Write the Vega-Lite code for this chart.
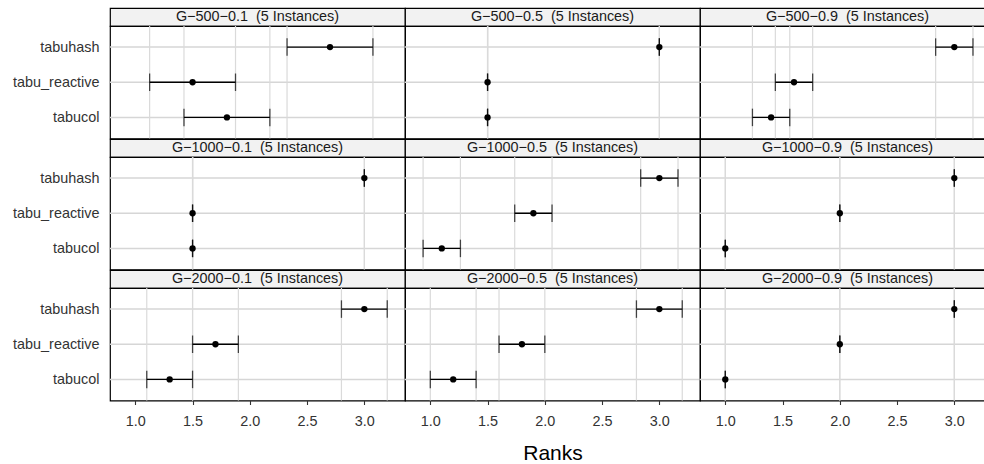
{
  "$schema": "https://vega.github.io/schema/vega-lite/v6.json",
  "padding": {"left": 11, "top": 7, "right": 0, "bottom": 0},
  "background": "white",
  "columns": 3,
  "spacing": 0,
  "bounds": "flush",
  "align": "each",
  "resolve": {"scale": {"x": "independent", "y": "independent"}},
  "datasets": {
    "strips": [
      {"panel": "G−500−0.1", "label": "G−500−0.1\u00a0 (5 Instances)"},
      {"panel": "G−500−0.5", "label": "G−500−0.5\u00a0 (5 Instances)"},
      {"panel": "G−500−0.9", "label": "G−500−0.9\u00a0 (5 Instances)"},
      {"panel": "G−1000−0.1", "label": "G−1000−0.1\u00a0 (5 Instances)"},
      {"panel": "G−1000−0.5", "label": "G−1000−0.5\u00a0 (5 Instances)"},
      {"panel": "G−1000−0.9", "label": "G−1000−0.9\u00a0 (5 Instances)"},
      {"panel": "G−2000−0.1", "label": "G−2000−0.1\u00a0 (5 Instances)"},
      {"panel": "G−2000−0.5", "label": "G−2000−0.5\u00a0 (5 Instances)"},
      {"panel": "G−2000−0.9", "label": "G−2000−0.9\u00a0 (5 Instances)"}
    ],
    "ranks": [
      {"panel": "G−500−0.1", "algorithm": "tabuhash", "lo": 2.325, "mean": 2.7, "hi": 3.075},
      {"panel": "G−500−0.1", "algorithm": "tabu_reactive", "lo": 1.125, "mean": 1.5, "hi": 1.875},
      {"panel": "G−500−0.1", "algorithm": "tabucol", "lo": 1.425, "mean": 1.8, "hi": 2.175},
      {"panel": "G−500−0.5", "algorithm": "tabuhash", "lo": 3.0, "mean": 3.0, "hi": 3.0},
      {"panel": "G−500−0.5", "algorithm": "tabu_reactive", "lo": 1.5, "mean": 1.5, "hi": 1.5},
      {"panel": "G−500−0.5", "algorithm": "tabucol", "lo": 1.5, "mean": 1.5, "hi": 1.5},
      {"panel": "G−500−0.9", "algorithm": "tabuhash", "lo": 2.837, "mean": 3.0, "hi": 3.163},
      {"panel": "G−500−0.9", "algorithm": "tabu_reactive", "lo": 1.437, "mean": 1.6, "hi": 1.763},
      {"panel": "G−500−0.9", "algorithm": "tabucol", "lo": 1.237, "mean": 1.4, "hi": 1.563},
      {"panel": "G−1000−0.1", "algorithm": "tabuhash", "lo": 3.0, "mean": 3.0, "hi": 3.0},
      {"panel": "G−1000−0.1", "algorithm": "tabu_reactive", "lo": 1.5, "mean": 1.5, "hi": 1.5},
      {"panel": "G−1000−0.1", "algorithm": "tabucol", "lo": 1.5, "mean": 1.5, "hi": 1.5},
      {"panel": "G−1000−0.5", "algorithm": "tabuhash", "lo": 2.837, "mean": 3.0, "hi": 3.163},
      {"panel": "G−1000−0.5", "algorithm": "tabu_reactive", "lo": 1.737, "mean": 1.9, "hi": 2.063},
      {"panel": "G−1000−0.5", "algorithm": "tabucol", "lo": 0.937, "mean": 1.1, "hi": 1.263},
      {"panel": "G−1000−0.9", "algorithm": "tabuhash", "lo": 3.0, "mean": 3.0, "hi": 3.0},
      {"panel": "G−1000−0.9", "algorithm": "tabu_reactive", "lo": 2.0, "mean": 2.0, "hi": 2.0},
      {"panel": "G−1000−0.9", "algorithm": "tabucol", "lo": 1.0, "mean": 1.0, "hi": 1.0},
      {"panel": "G−2000−0.1", "algorithm": "tabuhash", "lo": 2.8, "mean": 3.0, "hi": 3.2},
      {"panel": "G−2000−0.1", "algorithm": "tabu_reactive", "lo": 1.5, "mean": 1.7, "hi": 1.9},
      {"panel": "G−2000−0.1", "algorithm": "tabucol", "lo": 1.1, "mean": 1.3, "hi": 1.5},
      {"panel": "G−2000−0.5", "algorithm": "tabuhash", "lo": 2.8, "mean": 3.0, "hi": 3.2},
      {"panel": "G−2000−0.5", "algorithm": "tabu_reactive", "lo": 1.6, "mean": 1.8, "hi": 2.0},
      {"panel": "G−2000−0.5", "algorithm": "tabucol", "lo": 1.0, "mean": 1.2, "hi": 1.4},
      {"panel": "G−2000−0.9", "algorithm": "tabuhash", "lo": 3.0, "mean": 3.0, "hi": 3.0},
      {"panel": "G−2000−0.9", "algorithm": "tabu_reactive", "lo": 2.0, "mean": 2.0, "hi": 2.0},
      {"panel": "G−2000−0.9", "algorithm": "tabucol", "lo": 1.0, "mean": 1.0, "hi": 1.0}
    ]
  },
  "concat": [
    {"width": 295, "height": 18, "view": {"fill": "#F2F2F2", "stroke": "black", "strokeWidth": 1.2}, "data": {"name": "strips"}, "transform": [{"filter": {"field": "panel", "equal": "G−500−0.1"}}], "mark": {"type": "text", "fontSize": 14.4, "color": "#1A1A1A"}, "encoding": {"text": {"field": "label"}, "x": {"datum": 2.067, "type": "quantitative", "scale": {"domain": [0.779, 3.355], "nice": false, "zero": false}, "axis": null}}},
    {"width": 295, "height": 18, "view": {"fill": "#F2F2F2", "stroke": "black", "strokeWidth": 1.2}, "data": {"name": "strips"}, "transform": [{"filter": {"field": "panel", "equal": "G−500−0.5"}}], "mark": {"type": "text", "fontSize": 14.4, "color": "#1A1A1A"}, "encoding": {"text": {"field": "label"}, "x": {"datum": 2.067, "type": "quantitative", "scale": {"domain": [0.779, 3.355], "nice": false, "zero": false}, "axis": null}}},
    {"width": 285, "height": 18, "view": {"fill": "#F2F2F2", "stroke": "black", "strokeWidth": 1.2}, "data": {"name": "strips"}, "transform": [{"filter": {"field": "panel", "equal": "G−500−0.9"}}], "mark": {"type": "text", "fontSize": 14.4, "color": "#1A1A1A"}, "encoding": {"text": {"field": "label"}, "x": {"datum": 2.067, "type": "quantitative", "scale": {"domain": [0.779, 3.268], "nice": false, "zero": false}, "axis": null}}},

    {"width": 295, "height": 112.5, "data": {"name": "ranks"}, "transform": [{"filter": {"field": "panel", "equal": "G−500−0.1"}}],
     "layer": [
      {"mark": {"type": "rule", "color": "#D6D6D6", "strokeWidth": 1.5}, "encoding": {"x": {"datum": 0.779, "type": "quantitative", "scale": {"domain": [0.779, 3.355], "nice": false, "zero": false}, "axis": null}, "x2": {"datum": 3.355}, "y": {"field": "algorithm", "type": "nominal", "scale": {"type": "point", "domain": ["tabuhash", "tabu_reactive", "tabucol"], "padding": 0.6}, "axis": {"title": null}}}},
      {"mark": {"type": "rule", "color": "#DADADA", "strokeWidth": 1.2}, "encoding": {"x": {"field": "lo", "type": "quantitative", "scale": {"domain": [0.779, 3.355], "nice": false, "zero": false}, "axis": null}}},
      {"mark": {"type": "rule", "color": "#DADADA", "strokeWidth": 1.2}, "encoding": {"x": {"field": "hi", "type": "quantitative", "scale": {"domain": [0.779, 3.355], "nice": false, "zero": false}, "axis": null}}},
      {"mark": {"type": "rule", "color": "black", "strokeWidth": 1.3}, "encoding": {"x": {"field": "lo", "type": "quantitative", "scale": {"domain": [0.779, 3.355], "nice": false, "zero": false}, "axis": null}, "x2": {"field": "hi"}, "y": {"field": "algorithm", "type": "nominal", "scale": {"type": "point", "domain": ["tabuhash", "tabu_reactive", "tabucol"], "padding": 0.6}, "axis": {"title": null}}}},
      {"mark": {"type": "tick", "color": "black", "size": 17.5, "thickness": 1.3}, "encoding": {"x": {"field": "lo", "type": "quantitative", "scale": {"domain": [0.779, 3.355], "nice": false, "zero": false}, "axis": null}, "y": {"field": "algorithm", "type": "nominal", "scale": {"type": "point", "domain": ["tabuhash", "tabu_reactive", "tabucol"], "padding": 0.6}, "axis": {"title": null}}}},
      {"mark": {"type": "tick", "color": "black", "size": 17.5, "thickness": 1.3}, "encoding": {"x": {"field": "hi", "type": "quantitative", "scale": {"domain": [0.779, 3.355], "nice": false, "zero": false}, "axis": null}, "y": {"field": "algorithm", "type": "nominal", "scale": {"type": "point", "domain": ["tabuhash", "tabu_reactive", "tabucol"], "padding": 0.6}, "axis": {"title": null}}}},
      {"mark": {"type": "circle", "color": "black", "size": 40, "opacity": 1}, "encoding": {"x": {"field": "mean", "type": "quantitative", "scale": {"domain": [0.779, 3.355], "nice": false, "zero": false}, "axis": null}, "y": {"field": "algorithm", "type": "nominal", "scale": {"type": "point", "domain": ["tabuhash", "tabu_reactive", "tabucol"], "padding": 0.6}, "axis": {"title": null}}}}
     ]},
    {"width": 295, "height": 112.5, "data": {"name": "ranks"}, "transform": [{"filter": {"field": "panel", "equal": "G−500−0.5"}}],
     "layer": [
      {"mark": {"type": "rule", "color": "#D6D6D6", "strokeWidth": 1.5}, "encoding": {"x": {"datum": 0.779, "type": "quantitative", "scale": {"domain": [0.779, 3.355], "nice": false, "zero": false}, "axis": null}, "x2": {"datum": 3.355}, "y": {"field": "algorithm", "type": "nominal", "scale": {"type": "point", "domain": ["tabuhash", "tabu_reactive", "tabucol"], "padding": 0.6}, "axis": null}}},
      {"mark": {"type": "rule", "color": "#DADADA", "strokeWidth": 1.2}, "encoding": {"x": {"field": "lo", "type": "quantitative", "scale": {"domain": [0.779, 3.355], "nice": false, "zero": false}, "axis": null}}},
      {"mark": {"type": "rule", "color": "#DADADA", "strokeWidth": 1.2}, "encoding": {"x": {"field": "hi", "type": "quantitative", "scale": {"domain": [0.779, 3.355], "nice": false, "zero": false}, "axis": null}}},
      {"mark": {"type": "rule", "color": "black", "strokeWidth": 1.3}, "encoding": {"x": {"field": "lo", "type": "quantitative", "scale": {"domain": [0.779, 3.355], "nice": false, "zero": false}, "axis": null}, "x2": {"field": "hi"}, "y": {"field": "algorithm", "type": "nominal", "scale": {"type": "point", "domain": ["tabuhash", "tabu_reactive", "tabucol"], "padding": 0.6}, "axis": null}}},
      {"mark": {"type": "tick", "color": "black", "size": 17.5, "thickness": 1.3}, "encoding": {"x": {"field": "lo", "type": "quantitative", "scale": {"domain": [0.779, 3.355], "nice": false, "zero": false}, "axis": null}, "y": {"field": "algorithm", "type": "nominal", "scale": {"type": "point", "domain": ["tabuhash", "tabu_reactive", "tabucol"], "padding": 0.6}, "axis": null}}},
      {"mark": {"type": "tick", "color": "black", "size": 17.5, "thickness": 1.3}, "encoding": {"x": {"field": "hi", "type": "quantitative", "scale": {"domain": [0.779, 3.355], "nice": false, "zero": false}, "axis": null}, "y": {"field": "algorithm", "type": "nominal", "scale": {"type": "point", "domain": ["tabuhash", "tabu_reactive", "tabucol"], "padding": 0.6}, "axis": null}}},
      {"mark": {"type": "circle", "color": "black", "size": 40, "opacity": 1}, "encoding": {"x": {"field": "mean", "type": "quantitative", "scale": {"domain": [0.779, 3.355], "nice": false, "zero": false}, "axis": null}, "y": {"field": "algorithm", "type": "nominal", "scale": {"type": "point", "domain": ["tabuhash", "tabu_reactive", "tabucol"], "padding": 0.6}, "axis": null}}}
     ]},
    {"width": 285, "height": 112.5, "data": {"name": "ranks"}, "transform": [{"filter": {"field": "panel", "equal": "G−500−0.9"}}],
     "layer": [
      {"mark": {"type": "rule", "color": "#D6D6D6", "strokeWidth": 1.5}, "encoding": {"x": {"datum": 0.779, "type": "quantitative", "scale": {"domain": [0.779, 3.268], "nice": false, "zero": false}, "axis": null}, "x2": {"datum": 3.268}, "y": {"field": "algorithm", "type": "nominal", "scale": {"type": "point", "domain": ["tabuhash", "tabu_reactive", "tabucol"], "padding": 0.6}, "axis": null}}},
      {"mark": {"type": "rule", "color": "#DADADA", "strokeWidth": 1.2}, "encoding": {"x": {"field": "lo", "type": "quantitative", "scale": {"domain": [0.779, 3.268], "nice": false, "zero": false}, "axis": null}}},
      {"mark": {"type": "rule", "color": "#DADADA", "strokeWidth": 1.2}, "encoding": {"x": {"field": "hi", "type": "quantitative", "scale": {"domain": [0.779, 3.268], "nice": false, "zero": false}, "axis": null}}},
      {"mark": {"type": "rule", "color": "black", "strokeWidth": 1.3}, "encoding": {"x": {"field": "lo", "type": "quantitative", "scale": {"domain": [0.779, 3.268], "nice": false, "zero": false}, "axis": null}, "x2": {"field": "hi"}, "y": {"field": "algorithm", "type": "nominal", "scale": {"type": "point", "domain": ["tabuhash", "tabu_reactive", "tabucol"], "padding": 0.6}, "axis": null}}},
      {"mark": {"type": "tick", "color": "black", "size": 17.5, "thickness": 1.3}, "encoding": {"x": {"field": "lo", "type": "quantitative", "scale": {"domain": [0.779, 3.268], "nice": false, "zero": false}, "axis": null}, "y": {"field": "algorithm", "type": "nominal", "scale": {"type": "point", "domain": ["tabuhash", "tabu_reactive", "tabucol"], "padding": 0.6}, "axis": null}}},
      {"mark": {"type": "tick", "color": "black", "size": 17.5, "thickness": 1.3}, "encoding": {"x": {"field": "hi", "type": "quantitative", "scale": {"domain": [0.779, 3.268], "nice": false, "zero": false}, "axis": null}, "y": {"field": "algorithm", "type": "nominal", "scale": {"type": "point", "domain": ["tabuhash", "tabu_reactive", "tabucol"], "padding": 0.6}, "axis": null}}},
      {"mark": {"type": "circle", "color": "black", "size": 40, "opacity": 1}, "encoding": {"x": {"field": "mean", "type": "quantitative", "scale": {"domain": [0.779, 3.268], "nice": false, "zero": false}, "axis": null}, "y": {"field": "algorithm", "type": "nominal", "scale": {"type": "point", "domain": ["tabuhash", "tabu_reactive", "tabucol"], "padding": 0.6}, "axis": null}}}
     ]},

    {"width": 295, "height": 18, "view": {"fill": "#F2F2F2", "stroke": "black", "strokeWidth": 1.2}, "data": {"name": "strips"}, "transform": [{"filter": {"field": "panel", "equal": "G−1000−0.1"}}], "mark": {"type": "text", "fontSize": 14.4, "color": "#1A1A1A"}, "encoding": {"text": {"field": "label"}, "x": {"datum": 2.067, "type": "quantitative", "scale": {"domain": [0.779, 3.355], "nice": false, "zero": false}, "axis": null}}},
    {"width": 295, "height": 18, "view": {"fill": "#F2F2F2", "stroke": "black", "strokeWidth": 1.2}, "data": {"name": "strips"}, "transform": [{"filter": {"field": "panel", "equal": "G−1000−0.5"}}], "mark": {"type": "text", "fontSize": 14.4, "color": "#1A1A1A"}, "encoding": {"text": {"field": "label"}, "x": {"datum": 2.067, "type": "quantitative", "scale": {"domain": [0.779, 3.355], "nice": false, "zero": false}, "axis": null}}},
    {"width": 285, "height": 18, "view": {"fill": "#F2F2F2", "stroke": "black", "strokeWidth": 1.2}, "data": {"name": "strips"}, "transform": [{"filter": {"field": "panel", "equal": "G−1000−0.9"}}], "mark": {"type": "text", "fontSize": 14.4, "color": "#1A1A1A"}, "encoding": {"text": {"field": "label"}, "x": {"datum": 2.067, "type": "quantitative", "scale": {"domain": [0.779, 3.268], "nice": false, "zero": false}, "axis": null}}},

    {"width": 295, "height": 112.5, "data": {"name": "ranks"}, "transform": [{"filter": {"field": "panel", "equal": "G−1000−0.1"}}],
     "layer": [
      {"mark": {"type": "rule", "color": "#D6D6D6", "strokeWidth": 1.5}, "encoding": {"x": {"datum": 0.779, "type": "quantitative", "scale": {"domain": [0.779, 3.355], "nice": false, "zero": false}, "axis": null}, "x2": {"datum": 3.355}, "y": {"field": "algorithm", "type": "nominal", "scale": {"type": "point", "domain": ["tabuhash", "tabu_reactive", "tabucol"], "padding": 0.6}, "axis": {"title": null}}}},
      {"mark": {"type": "rule", "color": "#DADADA", "strokeWidth": 1.2}, "encoding": {"x": {"field": "lo", "type": "quantitative", "scale": {"domain": [0.779, 3.355], "nice": false, "zero": false}, "axis": null}}},
      {"mark": {"type": "rule", "color": "#DADADA", "strokeWidth": 1.2}, "encoding": {"x": {"field": "hi", "type": "quantitative", "scale": {"domain": [0.779, 3.355], "nice": false, "zero": false}, "axis": null}}},
      {"mark": {"type": "rule", "color": "black", "strokeWidth": 1.3}, "encoding": {"x": {"field": "lo", "type": "quantitative", "scale": {"domain": [0.779, 3.355], "nice": false, "zero": false}, "axis": null}, "x2": {"field": "hi"}, "y": {"field": "algorithm", "type": "nominal", "scale": {"type": "point", "domain": ["tabuhash", "tabu_reactive", "tabucol"], "padding": 0.6}, "axis": {"title": null}}}},
      {"mark": {"type": "tick", "color": "black", "size": 17.5, "thickness": 1.3}, "encoding": {"x": {"field": "lo", "type": "quantitative", "scale": {"domain": [0.779, 3.355], "nice": false, "zero": false}, "axis": null}, "y": {"field": "algorithm", "type": "nominal", "scale": {"type": "point", "domain": ["tabuhash", "tabu_reactive", "tabucol"], "padding": 0.6}, "axis": {"title": null}}}},
      {"mark": {"type": "tick", "color": "black", "size": 17.5, "thickness": 1.3}, "encoding": {"x": {"field": "hi", "type": "quantitative", "scale": {"domain": [0.779, 3.355], "nice": false, "zero": false}, "axis": null}, "y": {"field": "algorithm", "type": "nominal", "scale": {"type": "point", "domain": ["tabuhash", "tabu_reactive", "tabucol"], "padding": 0.6}, "axis": {"title": null}}}},
      {"mark": {"type": "circle", "color": "black", "size": 40, "opacity": 1}, "encoding": {"x": {"field": "mean", "type": "quantitative", "scale": {"domain": [0.779, 3.355], "nice": false, "zero": false}, "axis": null}, "y": {"field": "algorithm", "type": "nominal", "scale": {"type": "point", "domain": ["tabuhash", "tabu_reactive", "tabucol"], "padding": 0.6}, "axis": {"title": null}}}}
     ]},
    {"width": 295, "height": 112.5, "data": {"name": "ranks"}, "transform": [{"filter": {"field": "panel", "equal": "G−1000−0.5"}}],
     "layer": [
      {"mark": {"type": "rule", "color": "#D6D6D6", "strokeWidth": 1.5}, "encoding": {"x": {"datum": 0.779, "type": "quantitative", "scale": {"domain": [0.779, 3.355], "nice": false, "zero": false}, "axis": null}, "x2": {"datum": 3.355}, "y": {"field": "algorithm", "type": "nominal", "scale": {"type": "point", "domain": ["tabuhash", "tabu_reactive", "tabucol"], "padding": 0.6}, "axis": null}}},
      {"mark": {"type": "rule", "color": "#DADADA", "strokeWidth": 1.2}, "encoding": {"x": {"field": "lo", "type": "quantitative", "scale": {"domain": [0.779, 3.355], "nice": false, "zero": false}, "axis": null}}},
      {"mark": {"type": "rule", "color": "#DADADA", "strokeWidth": 1.2}, "encoding": {"x": {"field": "hi", "type": "quantitative", "scale": {"domain": [0.779, 3.355], "nice": false, "zero": false}, "axis": null}}},
      {"mark": {"type": "rule", "color": "black", "strokeWidth": 1.3}, "encoding": {"x": {"field": "lo", "type": "quantitative", "scale": {"domain": [0.779, 3.355], "nice": false, "zero": false}, "axis": null}, "x2": {"field": "hi"}, "y": {"field": "algorithm", "type": "nominal", "scale": {"type": "point", "domain": ["tabuhash", "tabu_reactive", "tabucol"], "padding": 0.6}, "axis": null}}},
      {"mark": {"type": "tick", "color": "black", "size": 17.5, "thickness": 1.3}, "encoding": {"x": {"field": "lo", "type": "quantitative", "scale": {"domain": [0.779, 3.355], "nice": false, "zero": false}, "axis": null}, "y": {"field": "algorithm", "type": "nominal", "scale": {"type": "point", "domain": ["tabuhash", "tabu_reactive", "tabucol"], "padding": 0.6}, "axis": null}}},
      {"mark": {"type": "tick", "color": "black", "size": 17.5, "thickness": 1.3}, "encoding": {"x": {"field": "hi", "type": "quantitative", "scale": {"domain": [0.779, 3.355], "nice": false, "zero": false}, "axis": null}, "y": {"field": "algorithm", "type": "nominal", "scale": {"type": "point", "domain": ["tabuhash", "tabu_reactive", "tabucol"], "padding": 0.6}, "axis": null}}},
      {"mark": {"type": "circle", "color": "black", "size": 40, "opacity": 1}, "encoding": {"x": {"field": "mean", "type": "quantitative", "scale": {"domain": [0.779, 3.355], "nice": false, "zero": false}, "axis": null}, "y": {"field": "algorithm", "type": "nominal", "scale": {"type": "point", "domain": ["tabuhash", "tabu_reactive", "tabucol"], "padding": 0.6}, "axis": null}}}
     ]},
    {"width": 285, "height": 112.5, "data": {"name": "ranks"}, "transform": [{"filter": {"field": "panel", "equal": "G−1000−0.9"}}],
     "layer": [
      {"mark": {"type": "rule", "color": "#D6D6D6", "strokeWidth": 1.5}, "encoding": {"x": {"datum": 0.779, "type": "quantitative", "scale": {"domain": [0.779, 3.268], "nice": false, "zero": false}, "axis": null}, "x2": {"datum": 3.268}, "y": {"field": "algorithm", "type": "nominal", "scale": {"type": "point", "domain": ["tabuhash", "tabu_reactive", "tabucol"], "padding": 0.6}, "axis": null}}},
      {"mark": {"type": "rule", "color": "#DADADA", "strokeWidth": 1.2}, "encoding": {"x": {"field": "lo", "type": "quantitative", "scale": {"domain": [0.779, 3.268], "nice": false, "zero": false}, "axis": null}}},
      {"mark": {"type": "rule", "color": "#DADADA", "strokeWidth": 1.2}, "encoding": {"x": {"field": "hi", "type": "quantitative", "scale": {"domain": [0.779, 3.268], "nice": false, "zero": false}, "axis": null}}},
      {"mark": {"type": "rule", "color": "black", "strokeWidth": 1.3}, "encoding": {"x": {"field": "lo", "type": "quantitative", "scale": {"domain": [0.779, 3.268], "nice": false, "zero": false}, "axis": null}, "x2": {"field": "hi"}, "y": {"field": "algorithm", "type": "nominal", "scale": {"type": "point", "domain": ["tabuhash", "tabu_reactive", "tabucol"], "padding": 0.6}, "axis": null}}},
      {"mark": {"type": "tick", "color": "black", "size": 17.5, "thickness": 1.3}, "encoding": {"x": {"field": "lo", "type": "quantitative", "scale": {"domain": [0.779, 3.268], "nice": false, "zero": false}, "axis": null}, "y": {"field": "algorithm", "type": "nominal", "scale": {"type": "point", "domain": ["tabuhash", "tabu_reactive", "tabucol"], "padding": 0.6}, "axis": null}}},
      {"mark": {"type": "tick", "color": "black", "size": 17.5, "thickness": 1.3}, "encoding": {"x": {"field": "hi", "type": "quantitative", "scale": {"domain": [0.779, 3.268], "nice": false, "zero": false}, "axis": null}, "y": {"field": "algorithm", "type": "nominal", "scale": {"type": "point", "domain": ["tabuhash", "tabu_reactive", "tabucol"], "padding": 0.6}, "axis": null}}},
      {"mark": {"type": "circle", "color": "black", "size": 40, "opacity": 1}, "encoding": {"x": {"field": "mean", "type": "quantitative", "scale": {"domain": [0.779, 3.268], "nice": false, "zero": false}, "axis": null}, "y": {"field": "algorithm", "type": "nominal", "scale": {"type": "point", "domain": ["tabuhash", "tabu_reactive", "tabucol"], "padding": 0.6}, "axis": null}}}
     ]},

    {"width": 295, "height": 18, "view": {"fill": "#F2F2F2", "stroke": "black", "strokeWidth": 1.2}, "data": {"name": "strips"}, "transform": [{"filter": {"field": "panel", "equal": "G−2000−0.1"}}], "mark": {"type": "text", "fontSize": 14.4, "color": "#1A1A1A"}, "encoding": {"text": {"field": "label"}, "x": {"datum": 2.067, "type": "quantitative", "scale": {"domain": [0.779, 3.355], "nice": false, "zero": false}, "axis": null}}},
    {"width": 295, "height": 18, "view": {"fill": "#F2F2F2", "stroke": "black", "strokeWidth": 1.2}, "data": {"name": "strips"}, "transform": [{"filter": {"field": "panel", "equal": "G−2000−0.5"}}], "mark": {"type": "text", "fontSize": 14.4, "color": "#1A1A1A"}, "encoding": {"text": {"field": "label"}, "x": {"datum": 2.067, "type": "quantitative", "scale": {"domain": [0.779, 3.355], "nice": false, "zero": false}, "axis": null}}},
    {"width": 285, "height": 18, "view": {"fill": "#F2F2F2", "stroke": "black", "strokeWidth": 1.2}, "data": {"name": "strips"}, "transform": [{"filter": {"field": "panel", "equal": "G−2000−0.9"}}], "mark": {"type": "text", "fontSize": 14.4, "color": "#1A1A1A"}, "encoding": {"text": {"field": "label"}, "x": {"datum": 2.067, "type": "quantitative", "scale": {"domain": [0.779, 3.268], "nice": false, "zero": false}, "axis": null}}},

    {"width": 295, "height": 112.5, "data": {"name": "ranks"}, "transform": [{"filter": {"field": "panel", "equal": "G−2000−0.1"}}],
     "layer": [
      {"mark": {"type": "rule", "color": "#D6D6D6", "strokeWidth": 1.5}, "encoding": {"x": {"datum": 0.779, "type": "quantitative", "scale": {"domain": [0.779, 3.355], "nice": false, "zero": false}, "axis": {"title": null, "format": ".1f", "tickCount": 5}}, "x2": {"datum": 3.355}, "y": {"field": "algorithm", "type": "nominal", "scale": {"type": "point", "domain": ["tabuhash", "tabu_reactive", "tabucol"], "padding": 0.6}, "axis": {"title": null}}}},
      {"mark": {"type": "rule", "color": "#DADADA", "strokeWidth": 1.2}, "encoding": {"x": {"field": "lo", "type": "quantitative", "scale": {"domain": [0.779, 3.355], "nice": false, "zero": false}, "axis": {"title": null, "format": ".1f", "tickCount": 5}}}},
      {"mark": {"type": "rule", "color": "#DADADA", "strokeWidth": 1.2}, "encoding": {"x": {"field": "hi", "type": "quantitative", "scale": {"domain": [0.779, 3.355], "nice": false, "zero": false}, "axis": {"title": null, "format": ".1f", "tickCount": 5}}}},
      {"mark": {"type": "rule", "color": "black", "strokeWidth": 1.3}, "encoding": {"x": {"field": "lo", "type": "quantitative", "scale": {"domain": [0.779, 3.355], "nice": false, "zero": false}, "axis": {"title": null, "format": ".1f", "tickCount": 5}}, "x2": {"field": "hi"}, "y": {"field": "algorithm", "type": "nominal", "scale": {"type": "point", "domain": ["tabuhash", "tabu_reactive", "tabucol"], "padding": 0.6}, "axis": {"title": null}}}},
      {"mark": {"type": "tick", "color": "black", "size": 17.5, "thickness": 1.3}, "encoding": {"x": {"field": "lo", "type": "quantitative", "scale": {"domain": [0.779, 3.355], "nice": false, "zero": false}, "axis": {"title": null, "format": ".1f", "tickCount": 5}}, "y": {"field": "algorithm", "type": "nominal", "scale": {"type": "point", "domain": ["tabuhash", "tabu_reactive", "tabucol"], "padding": 0.6}, "axis": {"title": null}}}},
      {"mark": {"type": "tick", "color": "black", "size": 17.5, "thickness": 1.3}, "encoding": {"x": {"field": "hi", "type": "quantitative", "scale": {"domain": [0.779, 3.355], "nice": false, "zero": false}, "axis": {"title": null, "format": ".1f", "tickCount": 5}}, "y": {"field": "algorithm", "type": "nominal", "scale": {"type": "point", "domain": ["tabuhash", "tabu_reactive", "tabucol"], "padding": 0.6}, "axis": {"title": null}}}},
      {"mark": {"type": "circle", "color": "black", "size": 40, "opacity": 1}, "encoding": {"x": {"field": "mean", "type": "quantitative", "scale": {"domain": [0.779, 3.355], "nice": false, "zero": false}, "axis": {"title": null, "format": ".1f", "tickCount": 5}}, "y": {"field": "algorithm", "type": "nominal", "scale": {"type": "point", "domain": ["tabuhash", "tabu_reactive", "tabucol"], "padding": 0.6}, "axis": {"title": null}}}}
     ]},
    {"width": 295, "height": 112.5, "data": {"name": "ranks"}, "transform": [{"filter": {"field": "panel", "equal": "G−2000−0.5"}}],
     "layer": [
      {"mark": {"type": "rule", "color": "#D6D6D6", "strokeWidth": 1.5}, "encoding": {"x": {"datum": 0.779, "type": "quantitative", "scale": {"domain": [0.779, 3.355], "nice": false, "zero": false}, "axis": {"title": "Ranks", "format": ".1f", "tickCount": 5}}, "x2": {"datum": 3.355}, "y": {"field": "algorithm", "type": "nominal", "scale": {"type": "point", "domain": ["tabuhash", "tabu_reactive", "tabucol"], "padding": 0.6}, "axis": null}}},
      {"mark": {"type": "rule", "color": "#DADADA", "strokeWidth": 1.2}, "encoding": {"x": {"field": "lo", "type": "quantitative", "scale": {"domain": [0.779, 3.355], "nice": false, "zero": false}, "axis": {"title": "Ranks", "format": ".1f", "tickCount": 5}}}},
      {"mark": {"type": "rule", "color": "#DADADA", "strokeWidth": 1.2}, "encoding": {"x": {"field": "hi", "type": "quantitative", "scale": {"domain": [0.779, 3.355], "nice": false, "zero": false}, "axis": {"title": "Ranks", "format": ".1f", "tickCount": 5}}}},
      {"mark": {"type": "rule", "color": "black", "strokeWidth": 1.3}, "encoding": {"x": {"field": "lo", "type": "quantitative", "scale": {"domain": [0.779, 3.355], "nice": false, "zero": false}, "axis": {"title": "Ranks", "format": ".1f", "tickCount": 5}}, "x2": {"field": "hi"}, "y": {"field": "algorithm", "type": "nominal", "scale": {"type": "point", "domain": ["tabuhash", "tabu_reactive", "tabucol"], "padding": 0.6}, "axis": null}}},
      {"mark": {"type": "tick", "color": "black", "size": 17.5, "thickness": 1.3}, "encoding": {"x": {"field": "lo", "type": "quantitative", "scale": {"domain": [0.779, 3.355], "nice": false, "zero": false}, "axis": {"title": "Ranks", "format": ".1f", "tickCount": 5}}, "y": {"field": "algorithm", "type": "nominal", "scale": {"type": "point", "domain": ["tabuhash", "tabu_reactive", "tabucol"], "padding": 0.6}, "axis": null}}},
      {"mark": {"type": "tick", "color": "black", "size": 17.5, "thickness": 1.3}, "encoding": {"x": {"field": "hi", "type": "quantitative", "scale": {"domain": [0.779, 3.355], "nice": false, "zero": false}, "axis": {"title": "Ranks", "format": ".1f", "tickCount": 5}}, "y": {"field": "algorithm", "type": "nominal", "scale": {"type": "point", "domain": ["tabuhash", "tabu_reactive", "tabucol"], "padding": 0.6}, "axis": null}}},
      {"mark": {"type": "circle", "color": "black", "size": 40, "opacity": 1}, "encoding": {"x": {"field": "mean", "type": "quantitative", "scale": {"domain": [0.779, 3.355], "nice": false, "zero": false}, "axis": {"title": "Ranks", "format": ".1f", "tickCount": 5}}, "y": {"field": "algorithm", "type": "nominal", "scale": {"type": "point", "domain": ["tabuhash", "tabu_reactive", "tabucol"], "padding": 0.6}, "axis": null}}}
     ]},
    {"width": 285, "height": 112.5, "data": {"name": "ranks"}, "transform": [{"filter": {"field": "panel", "equal": "G−2000−0.9"}}],
     "layer": [
      {"mark": {"type": "rule", "color": "#D6D6D6", "strokeWidth": 1.5}, "encoding": {"x": {"datum": 0.779, "type": "quantitative", "scale": {"domain": [0.779, 3.268], "nice": false, "zero": false}, "axis": {"title": null, "format": ".1f", "tickCount": 5}}, "x2": {"datum": 3.268}, "y": {"field": "algorithm", "type": "nominal", "scale": {"type": "point", "domain": ["tabuhash", "tabu_reactive", "tabucol"], "padding": 0.6}, "axis": null}}},
      {"mark": {"type": "rule", "color": "#DADADA", "strokeWidth": 1.2}, "encoding": {"x": {"field": "lo", "type": "quantitative", "scale": {"domain": [0.779, 3.268], "nice": false, "zero": false}, "axis": {"title": null, "format": ".1f", "tickCount": 5}}}},
      {"mark": {"type": "rule", "color": "#DADADA", "strokeWidth": 1.2}, "encoding": {"x": {"field": "hi", "type": "quantitative", "scale": {"domain": [0.779, 3.268], "nice": false, "zero": false}, "axis": {"title": null, "format": ".1f", "tickCount": 5}}}},
      {"mark": {"type": "rule", "color": "black", "strokeWidth": 1.3}, "encoding": {"x": {"field": "lo", "type": "quantitative", "scale": {"domain": [0.779, 3.268], "nice": false, "zero": false}, "axis": {"title": null, "format": ".1f", "tickCount": 5}}, "x2": {"field": "hi"}, "y": {"field": "algorithm", "type": "nominal", "scale": {"type": "point", "domain": ["tabuhash", "tabu_reactive", "tabucol"], "padding": 0.6}, "axis": null}}},
      {"mark": {"type": "tick", "color": "black", "size": 17.5, "thickness": 1.3}, "encoding": {"x": {"field": "lo", "type": "quantitative", "scale": {"domain": [0.779, 3.268], "nice": false, "zero": false}, "axis": {"title": null, "format": ".1f", "tickCount": 5}}, "y": {"field": "algorithm", "type": "nominal", "scale": {"type": "point", "domain": ["tabuhash", "tabu_reactive", "tabucol"], "padding": 0.6}, "axis": null}}},
      {"mark": {"type": "tick", "color": "black", "size": 17.5, "thickness": 1.3}, "encoding": {"x": {"field": "hi", "type": "quantitative", "scale": {"domain": [0.779, 3.268], "nice": false, "zero": false}, "axis": {"title": null, "format": ".1f", "tickCount": 5}}, "y": {"field": "algorithm", "type": "nominal", "scale": {"type": "point", "domain": ["tabuhash", "tabu_reactive", "tabucol"], "padding": 0.6}, "axis": null}}},
      {"mark": {"type": "circle", "color": "black", "size": 40, "opacity": 1}, "encoding": {"x": {"field": "mean", "type": "quantitative", "scale": {"domain": [0.779, 3.268], "nice": false, "zero": false}, "axis": {"title": null, "format": ".1f", "tickCount": 5}}, "y": {"field": "algorithm", "type": "nominal", "scale": {"type": "point", "domain": ["tabuhash", "tabu_reactive", "tabucol"], "padding": 0.6}, "axis": null}}}
     ]}
  ],
  "config": {
    "font": "Liberation Sans",
    "view": {"stroke": "black", "strokeWidth": 1.2},
    "concat": {"spacing": 0},
    "axis": {
      "labelFont": "Liberation Sans", "labelFontSize": 14.4, "labelColor": "#333333",
      "tickColor": "#333333", "tickSize": 4, "tickWidth": 1.1, "labelPadding": 10,
      "domain": false, "grid": false,
      "titleFont": "Liberation Sans", "titleFontSize": 21, "titleFontWeight": "normal", "titleColor": "black", "titlePadding": 15
    },
    "axisY": {"ticks": false, "labelPadding": 11}
  }
}
